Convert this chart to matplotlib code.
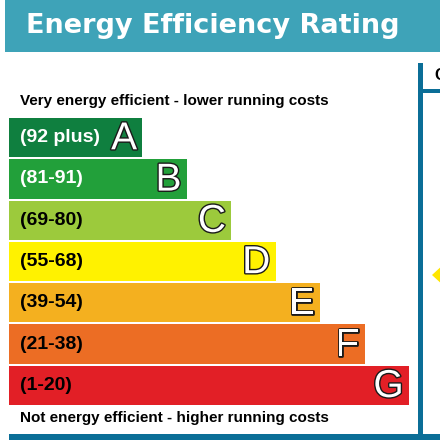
import matplotlib
matplotlib.use("Agg")
import matplotlib.pyplot as plt
import matplotlib.patheffects as pe
from matplotlib.patches import Rectangle, Polygon

plt.rcParams['font.family'] = ['Liberation Sans', 'DejaVu Sans']

# data
bands = ['A', 'B', 'C', 'D', 'E', 'F', 'G']
ranges = ['(92 plus)', '(81-91)', '(69-80)', '(55-68)', '(39-54)', '(21-38)', '(1-20)']
lengths = [3, 4, 5, 6, 7, 8, 9]
colors = ['#0f7f3f', '#22a03a', '#9cca3c', '#fff200', '#f4b01f', '#ec6d24', '#e21f26']
label_colors = ['white', 'white', 'black', 'black', 'black', 'black', 'black']
title = 'Energy Efficiency Rating'
top_note = 'Very energy efficient - lower running costs'
bottom_note = 'Not energy efficient - higher running costs'

teal = '#3ea3b8'
blue = '#0b6e97'

fig = plt.figure(figsize=(4.4, 4.4), dpi=100)

# background / frame in pixel units
bg = fig.add_axes([0, 0, 1, 1])
bg.set_xlim(0, 440)
bg.set_ylim(440, 0)
bg.axis('off')

bg.add_patch(Rectangle((5, 0), 435, 52, facecolor=teal, edgecolor='none', lw=0))
bg.text(26, 26, title, color='white', fontsize=19.5, fontweight='bold',
        family='DejaVu Sans', ha='left', va='center')

# right column lines and bottom rule
bg.add_patch(Rectangle((418, 63), 5, 377, facecolor=blue, edgecolor='none', lw=0))
bg.add_patch(Rectangle((418, 89), 22, 4, facecolor=blue, edgecolor='none', lw=0))
bg.add_patch(Rectangle((9, 434), 431, 6, facecolor=blue, edgecolor='none', lw=0))
bg.text(434, 76, 'C', fontsize=12, fontweight='bold', ha='left', va='center')
bg.add_patch(Polygon([(432, 275), (445, 263), (445, 287)],
                     facecolor='#ffe600', edgecolor='none', lw=0))

bg.text(20, 101, top_note, fontsize=11, fontweight='bold', va='center')
bg.text(20, 418, bottom_note, fontsize=11, fontweight='bold', va='center')

# rating bars
ax = fig.add_axes([9 / 440, (440 - 406) / 440, 400 / 440, (406 - 117) / 440])
ax.set_xlim(0, 9)
ax.set_ylim(6.5, -0.5)
ax.axis('off')

ypos = list(range(len(bands)))
ax.barh(ypos, lengths, height=0.95, color=colors, edgecolor='none', linewidth=0)

outline = [pe.withStroke(linewidth=2.0, foreground='#1a1a1a')]
for i, (band, rng, ln) in enumerate(zip(bands, ranges, lengths)):
    ax.text(0.25, i, rng, color=label_colors[i], fontsize=14,
            fontweight='bold', ha='left', va='center')
    ax.text(ln - 0.12, i + 0.04, band, color='white', fontsize=28,
            ha='right', va='center', path_effects=outline)

fig.savefig('out.png', dpi=100)
